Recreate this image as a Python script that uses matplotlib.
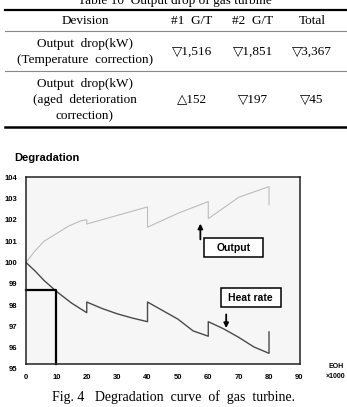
import matplotlib
matplotlib.use('Agg')
import matplotlib.pyplot as plt
from matplotlib.lines import Line2D
from matplotlib.patches import Rectangle

W, H = 347, 407

# table contents
table_title = 'Table 10  Output drop of gas turbine'
col_labels = ['Devision', '#1  G/T', '#2  G/T', 'Total']
row_labels = ['Output  drop(kW)\n(Temperature  correction)',
              'Output  drop(kW)\n(aged  deterioration\ncorrection)']
row1_values = ['\u25bd1,516', '\u25bd1,851', '\u25bd3,367']
row2_values = ['\u25b3152', '\u25bd197', '\u25bd45']

# degradation curves (EOH x1000 vs %)
output_x = [0, 3, 6, 10, 14, 18, 20, 20, 30, 40, 40, 50, 60, 60, 70, 80, 80]
output_y = [100.0, 100.55, 101.0, 101.35, 101.7, 101.95, 102.0, 101.8,
            102.2, 102.6, 101.65, 102.3, 102.85, 102.05, 103.05, 103.55, 102.7]
heat_x = [0, 3, 6, 10, 15, 20, 20, 25, 30, 35, 40, 40, 45, 50, 55, 60, 60,
          65, 70, 75, 80, 80]
heat_y = [100.0, 99.6, 99.15, 98.65, 98.1, 97.65, 98.15, 97.85, 97.6, 97.4,
          97.23, 98.15, 97.75, 97.35, 96.8, 96.55, 97.23, 96.9, 96.5, 96.05,
          95.75, 96.75]
x_ticks = [0, 10, 20, 30, 40, 50, 60, 70, 80, 90]
y_ticks = [96, 97, 98, 99, 100, 101, 102, 103, 104]

serif = ['Liberation Serif', 'DejaVu Serif', 'DejaVu Sans']
narrow = ['Liberation Sans Narrow', 'Liberation Sans', 'DejaVu Sans']


def fx(px):
    return px / W


def fy(py):
    return 1 - py / H


fig = plt.figure(figsize=(W / 100, H / 100), dpi=100)
fig.patch.set_facecolor('white')

# ---- table ----
fig.text(fx(175), fy(4), table_title, ha='center', va='baseline',
         fontsize=9.5, family=serif)
for y, lw, c in [(10, 1.6, 'black'), (31, 0.8, '#888888'),
                 (71, 0.8, '#888888'), (127, 1.8, 'black')]:
    fig.add_artist(Line2D([fx(5), fx(347)], [fy(y), fy(y)], lw=lw, color=c))

col_x = [85, 192, 253, 312]
for x, lab in zip(col_x, col_labels):
    fig.text(fx(x), fy(21), lab, ha='center', va='center', fontsize=9.5, family=serif)

fig.text(fx(85), fy(52), row_labels[0], ha='center', va='center',
         fontsize=9.5, family=serif, linespacing=1.45)
fig.text(fx(85), fy(100), row_labels[1], ha='center', va='center',
         fontsize=9.5, family=serif, linespacing=1.45)
for x, v in zip(col_x[1:], row1_values):
    fig.text(fx(x), fy(52), v, ha='center', va='center', fontsize=9.5, family=serif)
for x, v in zip(col_x[1:], row2_values):
    fig.text(fx(x), fy(100), v, ha='center', va='center', fontsize=9.5, family=serif)

# ---- chart ----
ax = fig.add_axes([fx(26), fy(364), (300 - 26) / W, (364 - 177) / H])
ax.set_facecolor('#f6f6f6')
ax.plot(output_x, output_y, color='#bcbcbc', lw=0.8)
ax.plot(heat_x, heat_y, color='#4a4a4a', lw=1.0)

# box marking the first 10,000 h
ax.plot([0, 10, 10], [98.72, 98.72, 95.25], color='black', lw=1.6, clip_on=False)

ax.set_xlim(0, 90.2)
ax.set_ylim(95.25, 104)
ax.set_xticks(x_ticks)
ax.set_yticks(y_ticks)
ax.tick_params(length=0, labelsize=5.5)
ax.tick_params(axis='y', pad=6.5)
ax.tick_params(axis='x', pad=7)
for lab in ax.get_xticklabels() + ax.get_yticklabels():
    lab.set_fontweight('bold')
    lab.set_family(narrow)
ax.text(-3.0, 95.0, '95', ha='right', va='center', fontsize=5.5,
        fontweight='bold', family=narrow, clip_on=False)
for s in ax.spines.values():
    s.set_linewidth(1.1)
    s.set_color('#222222')

# label boxes
ax.add_patch(Rectangle((58.6, 100.26), 19.4, 0.89, fc='white', ec='black', lw=1.1))
ax.text(68.3, 100.7, 'Output', ha='center', va='center', fontsize=7.5,
        fontweight='bold', family=narrow)
ax.annotate('', xy=(57.4, 101.95), xytext=(57.4, 100.95),
            arrowprops=dict(arrowstyle='-|>', color='black', lw=1.3,
                            mutation_scale=7))
ax.add_patch(Rectangle((64.1, 97.92), 19.8, 0.89, fc='white', ec='black', lw=1.1))
ax.text(74.0, 98.36, 'Heat rate', ha='center', va='center', fontsize=7.5,
        fontweight='bold', family=narrow)
ax.annotate('', xy=(65.9, 96.8), xytext=(65.9, 97.7),
            arrowprops=dict(arrowstyle='-|>', color='black', lw=1.3,
                            mutation_scale=7))

fig.text(fx(14), fy(158), 'Degradation', ha='left', va='center', fontsize=8,
         fontweight='bold', family=narrow)
fig.text(fx(336), fy(367), 'EOH', ha='center', va='center', fontsize=5,
         fontweight='bold', family=narrow)
fig.text(fx(336), fy(376), '\u00d71000', ha='center', va='center', fontsize=5,
         fontweight='bold', family=narrow)

fig.text(fx(174), fy(397), 'Fig. 4   Degradation  curve  of  gas  turbine.',
         ha='center', va='center', fontsize=10, family=serif)

fig.savefig('out.png', dpi=100, facecolor='white')
